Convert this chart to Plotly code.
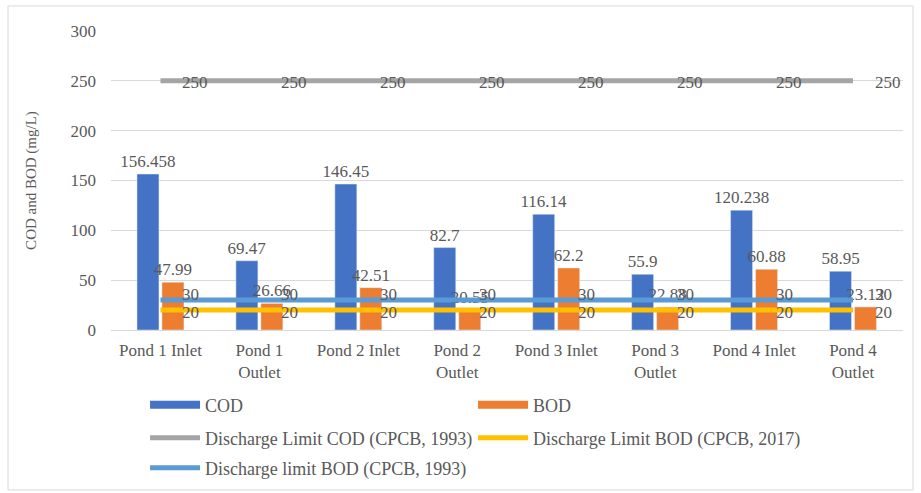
import plotly.graph_objects as go

# Sampling points along the pond system
categories = ["Pond 1 Inlet", "Pond 1<br>Outlet", "Pond 2 Inlet", "Pond 2<br>Outlet",
              "Pond 3 Inlet", "Pond 3<br>Outlet", "Pond 4 Inlet", "Pond 4<br>Outlet"]

# Measured concentrations (mg/L)
cod = [156.458, 69.47, 146.45, 82.7, 116.14, 55.9, 120.238, 58.95]
bod = [47.99, 26.66, 42.51, 20.55, 62.2, 22.88, 60.88, 23.12]

# Discharge limits (mg/L)
cod_limit_1993 = [250] * 8
bod_limit_2017 = [20] * 8
bod_limit_1993 = [30] * 8

FONT = "Liberation Serif"
GREY_TXT = "#595959"
C_COD = "#4472C4"
C_BOD = "#ED7D31"
C_LIM_COD = "#A5A5A5"
C_LIM_BOD17 = "#FFC000"
C_LIM_BOD93 = "#5B9BD5"

fig = go.Figure()

for vals, col, nm in [(cod, C_COD, "COD"), (bod, C_BOD, "BOD")]:
    fig.add_trace(go.Bar(x=categories, y=vals, name=nm, marker_color=col,
                         text=[f"{v:g}" for v in vals], textposition="outside",
                         constraintext="none", cliponaxis=False,
                         textfont=dict(family=FONT, size=17, color=GREY_TXT),
                         showlegend=False))

# (values, colour, name, vertical nudge of the value labels)
limits = [
    (cod_limit_1993, C_LIM_COD, "Discharge Limit COD (CPCB, 1993)", -2),
    (bod_limit_2017, C_LIM_BOD17, "Discharge Limit BOD (CPCB, 2017)", -2),
    (bod_limit_1993, C_LIM_BOD93, "Discharge limit BOD (CPCB, 1993)", 6),
]
for vals, col, nm, _ in limits:
    fig.add_trace(go.Scatter(x=categories, y=vals, mode="lines", name=nm,
                             line=dict(color=col, width=5), showlegend=False))

# Value labels to the right of each limit-line point
for vals, col, nm, dy in limits:
    for c, v in zip(categories, vals):
        fig.add_annotation(x=c, y=v, text=str(v), showarrow=False,
                           xanchor="left", yanchor="middle", xshift=20, yshift=dy,
                           font=dict(family=FONT, size=17, color=GREY_TXT))

# Legend entries
def legend_entry(name, color, legend, width):
    fig.add_trace(go.Scatter(x=[None], y=[None], mode="lines", name=name,
                             line=dict(color=color, width=width),
                             legend=legend))

legend_entry("COD", C_COD, "legend", 8)
legend_entry("BOD", C_BOD, "legend", 8)
legend_entry("Discharge Limit COD (CPCB, 1993)", C_LIM_COD, "legend2", 5)
legend_entry("Discharge Limit BOD (CPCB, 2017)", C_LIM_BOD17, "legend2", 5)
legend_entry("Discharge limit BOD (CPCB, 1993)", C_LIM_BOD93, "legend3", 5)

leg_common = dict(orientation="h", xanchor="left", yanchor="middle",
                  yref="container",
                  entrywidth=263, entrywidthmode="pixels", itemwidth=50,
                  font=dict(family=FONT, size=18, color=GREY_TXT),
                  bgcolor="rgba(0,0,0,0)", traceorder="normal")

fig.update_layout(
    width=921, height=493,
    margin=dict(l=111, r=18, t=31, b=163, autoexpand=False),
    paper_bgcolor="white", plot_bgcolor="white",
    barmode="group", bargap=0.495, bargroupgap=0.12,
    showlegend=True,
    legend=dict(x=0.043, y=0.1785, **leg_common),
    legend2=dict(x=0.043, y=0.1116, **leg_common),
    legend3=dict(x=0.043, y=0.0507, **leg_common),
    font=dict(family=FONT, size=17, color=GREY_TXT),
    xaxis=dict(showgrid=False, showline=False, ticks="", ticklabelstandoff=8,
               tickfont=dict(family=FONT, size=17, color=GREY_TXT)),
    yaxis=dict(range=[0, 300], dtick=50, showgrid=True, gridcolor="#D9D9D9",
               gridwidth=1, zeroline=True, zerolinecolor="#D9D9D9",
               zerolinewidth=1, showline=False, ticklabelstandoff=14,
               tickfont=dict(family=FONT, size=17, color=GREY_TXT),
               title=dict(text="COD and BOD (mg/L)", standoff=30,
                          font=dict(family=FONT, size=15, color=GREY_TXT))),
)

# Chart frame
fig.add_shape(type="rect", xref="paper", yref="paper",
              x0=-0.130, x1=1.0126, y0=-0.535, y1=1.0836,
              line=dict(color="#D9D9D9", width=1), layer="below")

fig.write_html("out.html")
